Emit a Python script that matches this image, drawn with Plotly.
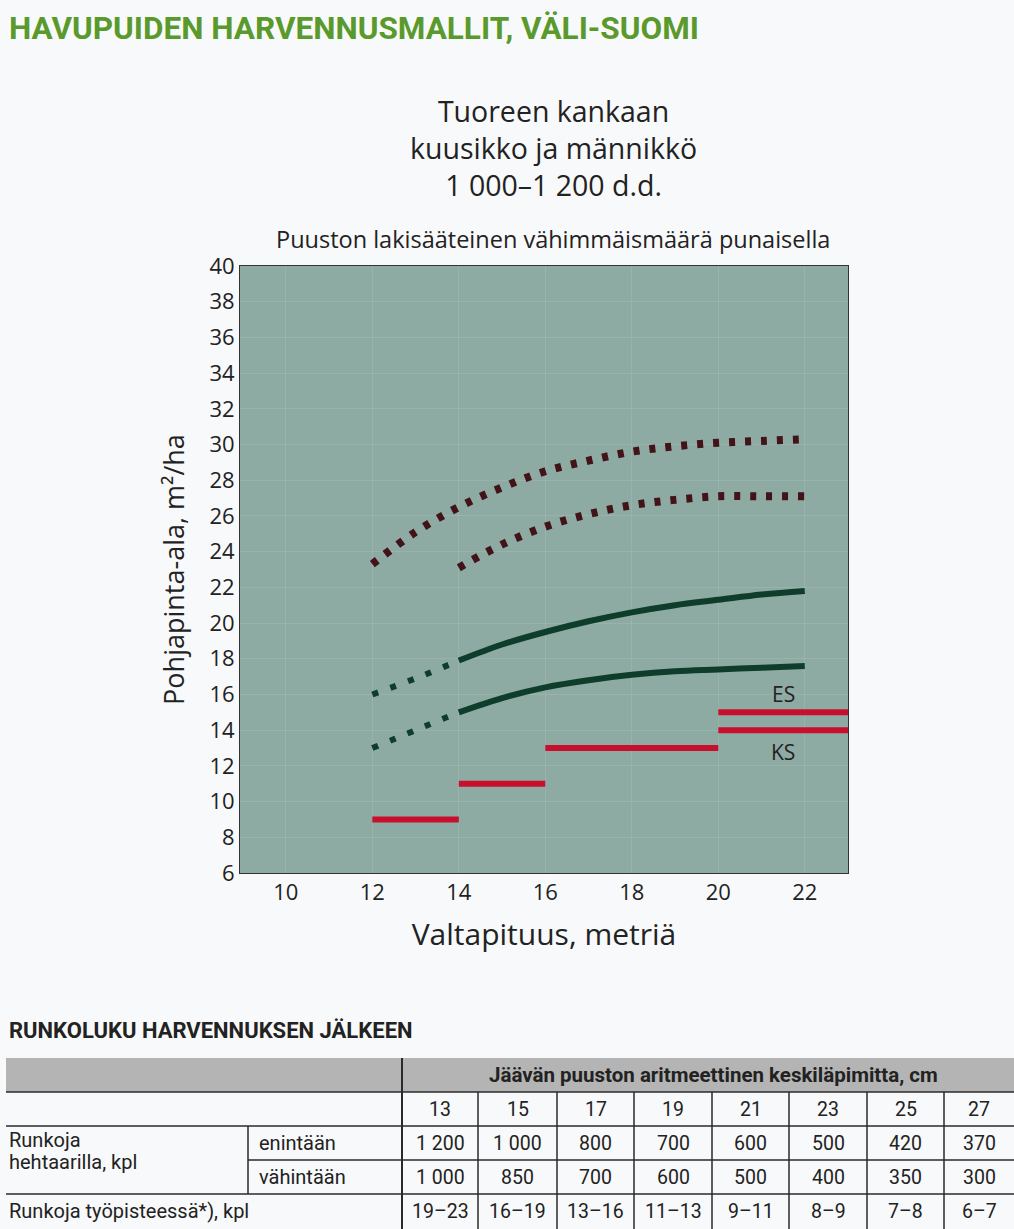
import plotly.graph_objects as go

# ---------------- data ----------------
# Dominant height (m)
HEIGHT = [12, 13, 14, 15, 16, 17, 18, 19, 20, 21, 22]
# Basal area limits before thinning (upper dotted curves, m2/ha)
BA_THIN_HIGH = [23.3, 25.1, 26.5, 27.6, 28.5, 29.1, 29.6, 29.9, 30.1, 30.2, 30.3]
HEIGHT_LOW = [14, 15, 16, 17, 18, 19, 20, 21, 22]
BA_THIN_LOW = [23.1, 24.4, 25.4, 26.1, 26.6, 26.9, 27.1, 27.1, 27.1]
# Basal area after thinning (green curves)
BA_AFTER_HIGH = [16.0, 16.9, 17.9, 18.8, 19.5, 20.1, 20.6, 21.0, 21.3, 21.6, 21.8]
BA_AFTER_LOW = [13.0, 14.0, 15.0, 15.8, 16.4, 16.8, 17.1, 17.3, 17.4, 17.5, 17.6]
# Legal minimum (red), segments: start height, end height, basal area
MIN_START = [12, 14, 16, 20, 20]
MIN_END = [14, 16, 20, 23, 23]
MIN_BA = [9, 11, 13, 15, 14]
MIN_LABELS = ["ES", "KS"]
MIN_LABEL_X = [21.5, 21.5]
MIN_LABEL_Y = [16.0, 12.75]

# Titles
TITLE_LINES = ["Tuoreen kankaan", "kuusikko ja männikkö", "1 000–1 200 d.d."]

# Table
DIAMETERS = ["13", "15", "17", "19", "21", "23", "25", "27"]
STEMS_MAX = ["1 200", "1 000", "800", "700", "600", "500", "420", "370"]
STEMS_MIN = ["1 000", "850", "700", "600", "500", "400", "350", "300"]
STEMS_WORKPOINT = ["19–23", "16–19", "13–16", "11–13", "9–11", "8–9", "7–8", "6–7"]

# ---------------- layout constants ----------------
W, H = 1014, 1229
PX_L, PX_R, PX_T, PX_B = 240, 848, 266, 873

BG = "#8eaba3"
PAPER = "#f8f9fa"
MAROON = "#43131a"
GREEN = "#0f3d2c"
RED = "#c8102e"
TXT = "#222222"
FONT = "Open Sans, Noto Sans, sans-serif"
COND = "Roboto, Liberation Sans, sans-serif"

fig = go.Figure()

# upper dotted curves
fig.add_trace(go.Scatter(x=HEIGHT, y=BA_THIN_HIGH, mode="lines", line_shape="spline",
                         line=dict(color=MAROON, width=8, dash="6px,10px"), showlegend=False))
fig.add_trace(go.Scatter(x=HEIGHT_LOW, y=BA_THIN_LOW, mode="lines", line_shape="spline",
                         line=dict(color=MAROON, width=8, dash="6px,10px"), showlegend=False))

# green curves: dotted part up to 14 m, solid from 14 m
for ys in (BA_AFTER_HIGH, BA_AFTER_LOW):
    xd = [x for x in HEIGHT if x <= 14]
    yd = [y for x, y in zip(HEIGHT, ys) if x <= 14]
    xs = [x for x in HEIGHT if x >= 14]
    ysol = [y for x, y in zip(HEIGHT, ys) if x >= 14]
    fig.add_trace(go.Scatter(x=xd, y=yd, mode="lines", line_shape="spline",
                             line=dict(color=GREEN, width=6, dash="6px,13px"), showlegend=False))
    fig.add_trace(go.Scatter(x=xs, y=ysol, mode="lines", line_shape="spline",
                             line=dict(color=GREEN, width=6), showlegend=False))

# red legal minimum segments
for x0, x1, b in zip(MIN_START, MIN_END, MIN_BA):
    fig.add_trace(go.Scatter(x=[x0, x1], y=[b, b], mode="lines",
                             line=dict(color=RED, width=6), showlegend=False))

annotations = []
for t, lx, ly in zip(MIN_LABELS, MIN_LABEL_X, MIN_LABEL_Y):
    annotations.append(dict(x=lx, y=ly, xref="x", yref="y", text=t, showarrow=False,
                            font=dict(family=FONT, size=21, color=TXT)))


def py(p):
    return 1 - p / H


def px(p):
    return p / W


# titles
annotations.append(dict(x=px(7), y=py(29), xref="paper", yref="paper", xanchor="left", yanchor="middle",
                        text="<b>HAVUPUIDEN HARVENNUSMALLIT, VÄLI-SUOMI</b>", showarrow=False,
                        font=dict(family=COND, size=31.5, color="#5a9a2c")))
annotations.append(dict(x=px(553), y=py(148), xref="paper", yref="paper", xanchor="center",
                        yanchor="middle", text="<br>".join(TITLE_LINES), showarrow=False,
                        align="center", font=dict(family=FONT, size=28.5, color=TXT)))
annotations.append(dict(x=px(553), y=py(239), xref="paper", yref="paper", xanchor="center",
                        yanchor="middle", text="Puuston lakisääteinen vähimmäismäärä punaisella",
                        showarrow=False, font=dict(family=FONT, size=23.5, color=TXT)))

# ---------------- table (drawn on hidden axes x2/y2) ----------------
annotations.append(dict(x=px(7), y=py(1030), xref="paper", yref="paper", xanchor="left", yanchor="middle",
                        text="<b>RUNKOLUKU HARVENNUKSEN JÄLKEEN</b>", showarrow=False,
                        font=dict(family=COND, size=22, color=TXT)))

COLS = [402, 478, 557, 634, 712, 789, 867, 944, 1014]
ROWS = [1058, 1092, 1126, 1160, 1194, 1229]
LINE = "#2a2a2a"
shapes = []
# plot-area background
shapes.append(dict(type="rect", xref="x domain", yref="y domain", x0=0, x1=1, y0=0, y1=1,
                   fillcolor=BG, line=dict(width=0), layer="below"))
shapes.append(dict(type="rect", xref="x2", yref="y2", x0=6, x1=1014, y0=ROWS[0], y1=ROWS[1],
                   fillcolor="#b4b4b4", line=dict(width=0), layer="below"))
for yy, xa in [(ROWS[1], 6), (ROWS[2], 6), (ROWS[3], 248), (ROWS[4], 6)]:
    shapes.append(dict(type="line", xref="x2", yref="y2", x0=xa, x1=1014, y0=yy, y1=yy,
                       line=dict(color=LINE, width=1.5)))
shapes.append(dict(type="line", xref="x2", yref="y2", x0=COLS[0], x1=COLS[0], y0=ROWS[0], y1=ROWS[5],
                   line=dict(color=LINE, width=2)))
shapes.append(dict(type="line", xref="x2", yref="y2", x0=248, x1=248, y0=ROWS[2], y1=ROWS[4],
                   line=dict(color=LINE, width=1.5)))
for c in COLS[1:-1]:
    shapes.append(dict(type="line", xref="x2", yref="y2", x0=c, x1=c, y0=ROWS[1], y1=ROWS[5],
                       line=dict(color=LINE, width=1.5)))

TF = dict(family=COND, size=19.5, color=TXT)
LF = dict(family=COND, size=20, color=TXT)
annotations.append(dict(x=(COLS[0] + COLS[-1]) / 2 + 5, y=(ROWS[0] + ROWS[1]) / 2, xref="x2", yref="y2",
                        text="<b>Jäävän puuston aritmeettinen keskiläpimitta, cm</b>", showarrow=False,
                        font=dict(family=COND, size=20.5, color=TXT)))
for i in range(8):
    cx = (COLS[i] + COLS[i + 1]) / 2
    for r, vals in enumerate([DIAMETERS, STEMS_MAX, STEMS_MIN, STEMS_WORKPOINT]):
        cy = (ROWS[r + 1] + ROWS[r + 2]) / 2
        annotations.append(dict(x=cx, y=cy, xref="x2", yref="y2", text=vals[i], showarrow=False,
                                font=TF))
for t, xx, yy in [("Runkoja", 7, 1140), ("hehtaarilla, kpl", 7, 1162), ("enintään", 257, 1143),
                  ("vähintään", 257, 1177), ("Runkoja työpisteessä*), kpl", 7, 1211)]:
    annotations.append(dict(x=xx, y=yy, xref="x2", yref="y2", xanchor="left", text=t,
                            showarrow=False, font=LF))

fig.update_layout(
    width=W, height=H,
    margin=dict(l=0, r=0, t=0, b=0, autoexpand=False),
    paper_bgcolor=PAPER,
    plot_bgcolor="rgba(0,0,0,0)",
    showlegend=False,
    annotations=annotations,
    shapes=shapes,
    xaxis=dict(domain=[PX_L / W, PX_R / W], range=[8.94, 23], tickvals=[10, 12, 14, 16, 18, 20, 22],
               showgrid=True, gridcolor="rgba(255,255,255,0.10)", zeroline=False,
               showline=True, linecolor="#333333", linewidth=1, mirror=True,
               ticks="", tickfont=dict(family=FONT, size=22, color=TXT),
               title=dict(text="Valtapituus, metriä", font=dict(family=FONT, size=30, color=TXT),
                          standoff=18),
               anchor="y"),
    yaxis=dict(domain=[1 - PX_B / H, 1 - PX_T / H], range=[6, 40], dtick=2, tick0=6,
               showgrid=True, gridcolor="rgba(255,255,255,0.10)", zeroline=False,
               showline=True, linecolor="#333333", linewidth=1, mirror=True,
               ticks="", tickfont=dict(family=FONT, size=22, color=TXT),
               title=dict(text="Pohjapinta-ala, m²/ha", font=dict(family=FONT, size=27, color=TXT),
                          standoff=16),
               anchor="x"),
    xaxis2=dict(domain=[0, 1], range=[0, W], visible=False, anchor="y2", fixedrange=True),
    yaxis2=dict(domain=[0, 1 - 1040 / H], range=[H, 1040], visible=False, anchor="x2", fixedrange=True),
)
# invisible trace to activate the table axes
fig.add_trace(go.Scatter(x=[500], y=[1100], xaxis="x2", yaxis="y2", mode="markers",
                         marker=dict(opacity=0), hoverinfo="skip", showlegend=False))

fig.write_html("out.html", config={"displayModeBar": False},
               post_script="document.body.style.margin='0';")
